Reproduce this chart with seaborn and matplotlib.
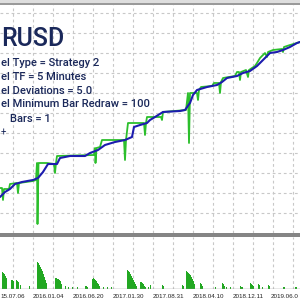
import matplotlib
matplotlib.use("Agg")
import matplotlib.pyplot as plt
import seaborn as sns
import pandas as pd
from matplotlib.patches import Rectangle
from matplotlib.transforms import blended_transform_factory

# ---- data (bar index vs. account value) ----
balance_x = [0, 5, 10, 15, 22, 33, 38, 43, 48, 57, 60, 70, 85, 90, 98, 105, 115, 125, 132, 134,
             140, 147, 150, 155, 163, 180, 185, 190, 193, 197, 207, 217, 222, 227, 237, 243, 250,
             257, 263, 270, 277, 283, 290, 297, 300]
balance_y = [36, 41, 44, 49, 51, 53, 55, 61, 69, 69, 75, 77, 77, 80, 83, 88, 91, 93, 96, 106,
             108, 110, 113, 116, 121, 122, 123, 130, 138, 143, 146, 148, 151, 155, 157, 160, 162,
             167, 173, 180, 181, 183, 186, 190, 191]

equity_x = [0, 2, 3, 4, 9, 10, 17, 18, 19, 33, 36, 37, 37.5, 38.5, 47, 54, 55, 56, 57, 94, 95,
            95.5, 96.5, 100, 102, 124, 125, 126, 128, 144, 145, 146, 147, 161, 162, 163, 186, 188,
            189, 190, 197, 198, 199, 201, 212, 214, 219, 220, 221, 223, 235, 237, 239, 240, 241,
            246, 248, 249, 255, 257, 260, 265, 267, 268, 273, 282, 283, 284, 290, 297, 300]
equity_y = [45, 45, 33, 44, 44, 49, 50, 40, 50, 52, 53, 70, 9, 70, 70, 69, 60, 70, 77, 78, 85,
            70, 85, 86, 93, 93, 73, 93, 110, 110, 98, 110, 116, 116, 113, 121, 123, 140,
            90, 140, 140, 133, 143, 146, 147, 150, 150, 140, 151, 155, 157, 161, 161, 153, 161,
            163, 156, 163, 167, 170, 175, 180, 176, 181, 183, 184, 181, 186, 188, 190, 191]

drawdown_x = [2, 3, 4, 5, 6, 11, 12, 13, 16, 17, 18, 20, 29, 37, 38, 39, 40, 41, 42, 43, 44, 45,
              46, 55, 56, 57, 58, 59, 60, 61, 65, 68, 72, 77, 85, 86, 87, 92, 93, 94, 95, 96, 97,
              98, 99, 103, 107, 111, 127, 128, 129, 130, 131, 132, 133, 134, 135, 136, 140, 141,
              142, 143, 144, 145, 148, 150, 162, 163, 182, 183, 186, 187, 188, 189, 190, 191, 192,
              193, 194, 200, 201, 202, 215, 222, 223, 224, 226, 230, 240, 241, 242, 250, 251,
              252, 253, 258, 259, 262, 268, 269, 283, 284, 295, 296]
drawdown_h = [17, 16, 15, 13, 11, 9, 9, 8, 9, 8, 7, 4, 3, 27, 26, 24, 22, 20, 18, 15, 12, 9,
              6, 11, 11, 10, 10, 9, 8, 5, 3, 2, 2, 2, 3, 3, 2, 10, 11, 10, 9, 8, 6,
              5, 3, 2, 2, 2, 19, 18, 17, 15, 13, 11, 9, 7, 5, 3, 7, 7,
              6, 5, 3, 2, 2, 4, 4, 3, 4, 3, 18, 17, 16, 15, 14, 12, 10,
              8, 5, 6, 5, 3, 2, 6, 5, 3, 2, 2, 3, 2, 2, 6, 5,
              4, 3, 5, 4, 2, 4, 3, 2, 2, 2, 2]

date_labels = ["15.07.06", "2016.01.04", "2016.06.20", "2017.01.30",
               "2017.08.31", "2018.04.10", "2018.12.11", "2019.06.0"]

title_text = "RUSD"
info_lines = ["el Type = Strategy 2", "el TF = 5 Minutes", "el Deviations = 5.0",
              "el Minimum Bar Redraw = 100"]
bars_line = "Bars = 1"

# ---- figure ----
sns.set_style("white")
plt.rcParams['font.family'] = ['Roboto', 'DejaVu Sans']

W, H = 300, 300
fig = plt.figure(figsize=(3, 3), dpi=100)
fig.patch.set_facecolor("white")

def fy(py):
    return (H - py) / H

main_top, main_bot = 5, 233
sub_top, sub_bot = 237, 289
ax = fig.add_axes([0, fy(main_bot), 1, (main_bot - main_top) / H])
axb = fig.add_axes([0, fy(sub_bot), 1, (sub_bot - sub_top) / H])

grid_kw = dict(color="#c8c8c8", linewidth=0.8, linestyle=(0, (2.5, 2.5)), zorder=0)
vgrid = [13 + 20 * k for k in range(15)]
for a in (ax, axb):
    a.set_xlim(0, 300)
    for s in a.spines.values():
        s.set_visible(False)
    a.set_xticks([])
    a.set_yticks([])
    a.set_facecolor("white")
    for gx in vgrid:
        a.axvline(gx, **grid_kw)
ax.set_ylim(0, main_bot - main_top)
axb.set_ylim(0, sub_bot - sub_top)
for gy in range(20, 221, 20):
    ax.axhline(gy, **grid_kw)

eq = pd.DataFrame({"x": equity_x, "y": equity_y})
bal = pd.DataFrame({"x": balance_x, "y": balance_y})
sns.lineplot(data=eq, x="x", y="y", ax=ax, estimator=None, sort=False,
             color="#2cbf2c", linewidth=1.3, zorder=3)
sns.lineplot(data=bal, x="x", y="y", ax=ax, estimator=None, sort=False,
             color="#1c1cae", linewidth=1.5, zorder=4)
ax.set_xlabel("")
ax.set_ylabel("")

axb.bar(drawdown_x, drawdown_h, width=1.0, color="#22a822", edgecolor="none",
        align="edge", zorder=3)
axb.axhline(0, color="#8a8a8a", linewidth=1.0, zorder=4)

# frame pieces
fig.patches.append(Rectangle((0, fy(3)), 1, 3 / H, transform=fig.transFigure,
                             facecolor="#dedede", edgecolor="none", zorder=5))
fig.patches.append(Rectangle((0, fy(5)), 1, 2 / H, transform=fig.transFigure,
                             facecolor="#9a9a9a", edgecolor="none", zorder=5))
fig.patches.append(Rectangle((0, fy(236.5)), 1, 3.5 / H, transform=fig.transFigure,
                             facecolor="#858585", edgecolor="none", zorder=5))

# text
txt_color = "#1a285a"
fig.text(1 / W, fy(46), title_text, fontsize=18, color=txt_color, fontweight="medium",
         va="baseline", ha="left")
for i, line in enumerate(info_lines):
    fig.text(1 / W, fy(65.5 + 14 * i), line, fontsize=8, color=txt_color,
             fontweight="medium", va="baseline", ha="left")
fig.text(10 / W, fy(121.5), bars_line, fontsize=8, color=txt_color, fontweight="medium",
         va="baseline", ha="left")
fig.text(0.5 / W, fy(136), "+", fontsize=7, color=txt_color, va="baseline", ha="left")

tr = blended_transform_factory(axb.transData, fig.transFigure)
label_x = [0] + [33 + 40 * i for i in range(len(date_labels) - 2)] + [271]
for lx, lab in zip(label_x, date_labels):
    axb.text(lx, fy(297.5), lab, transform=tr, fontsize=4.5,
             family="Liberation Sans", color="#222222", ha="left", va="baseline",
             clip_on=False)

fig.savefig("out.png", dpi=100, facecolor="white")
